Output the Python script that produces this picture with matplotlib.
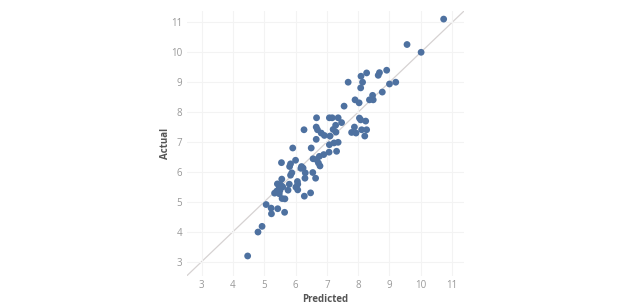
import matplotlib
matplotlib.use("Agg")
import matplotlib.pyplot as plt

predicted = [10.73, 9.56, 10.01, 8.91, 8.68, 8.64, 8.27, 8.09, 8.14, 7.68,
             9.20, 9.00, 8.08, 8.77, 8.46, 8.48, 8.36, 7.90, 8.03, 7.55,
             6.67, 7.08, 7.17, 7.36, 8.04, 8.08, 8.24, 7.47, 7.28, 6.66,
             7.88, 6.70, 6.27, 7.20, 8.11, 8.27, 7.79, 7.93, 6.82, 6.92,
             7.29, 7.10, 8.21, 6.66, 7.36, 7.23, 7.08, 5.91, 6.50,
             7.31, 7.07, 6.90, 6.76, 6.67, 6.56, 6.73, 6.78, 6.55, 6.64,
             6.00, 5.55, 5.84, 5.81, 6.19, 6.24, 6.17, 5.88, 5.84, 6.31,
             6.30, 5.56, 6.06, 6.07, 5.42, 5.52, 5.80, 6.01, 5.48, 5.59,
             6.07, 5.76, 5.50, 5.40, 5.33, 5.48, 6.48, 6.28, 5.57, 5.66,
             5.06, 5.22, 5.43, 5.65, 5.23, 4.93, 4.80, 4.47]
actual = [11.11, 10.26, 10.00, 9.40, 9.32, 9.23, 9.31, 9.20, 9.00, 9.00,
          9.00, 8.94, 8.81, 8.67, 8.56, 8.41, 8.41, 8.41, 8.31, 8.20,
          7.81, 7.81, 7.81, 7.81, 7.80, 7.74, 7.70, 7.65, 7.56, 7.50,
          7.50, 7.41, 7.41, 7.42, 7.41, 7.41, 7.32, 7.30, 7.30, 7.22,
          7.33, 7.20, 7.20, 7.09, 6.99, 6.97, 6.91, 6.80, 6.80,
          6.69, 6.66, 6.58, 6.52, 6.41, 6.44, 6.30, 6.20, 5.98, 5.79,
          6.39, 6.31, 6.27, 6.18, 6.18, 6.13, 6.12, 5.97, 5.89, 5.97,
          5.79, 5.76, 5.68, 5.59, 5.60, 5.57, 5.59, 5.49, 5.48, 5.50,
          5.40, 5.39, 5.38, 5.36, 5.29, 5.27, 5.30, 5.19, 5.11, 5.10,
          4.91, 4.79, 4.77, 4.65, 4.60, 4.18, 3.99, 3.19]
ticks = [3, 4, 5, 6, 7, 8, 9, 10, 11]

plt.rcParams['font.family'] = ['Open Sans', 'DejaVu Sans']

fig = plt.figure(figsize=(6.22, 3.06), dpi=100)
ax = fig.add_axes([0.300, 0.098, 0.446, 0.866])
lo, hi = 2.52, 11.38
ax.set_xlim(lo, hi)
ax.set_ylim(lo, hi)

ax.plot([lo, hi], [lo, hi], color='#d6d2d2', lw=0.9, zorder=1)
ax.scatter(predicted, actual, s=24, color='#4e71a0', edgecolors='none', zorder=3)

ax.set_xticks(ticks)
ax.set_yticks(ticks)
ax.set_xticklabels([str(t) for t in ticks])
ax.set_yticklabels([str(t) for t in ticks])
ax.tick_params(axis='both', length=0, labelsize=7, colors='#999999')
ax.tick_params(axis='x', pad=3)
ax.tick_params(axis='y', pad=3)
ax.grid(True, color='#f3f3f3', lw=0.8, zorder=0)
for s in ax.spines.values():
    s.set_visible(False)

ax.set_xlabel('Predicted', fontsize=7, fontweight='bold', color='#555555', labelpad=2)
ax.set_ylabel('Actual', fontsize=7, fontweight='bold', color='#555555', labelpad=0)

fig.savefig('out.png', dpi=100)
